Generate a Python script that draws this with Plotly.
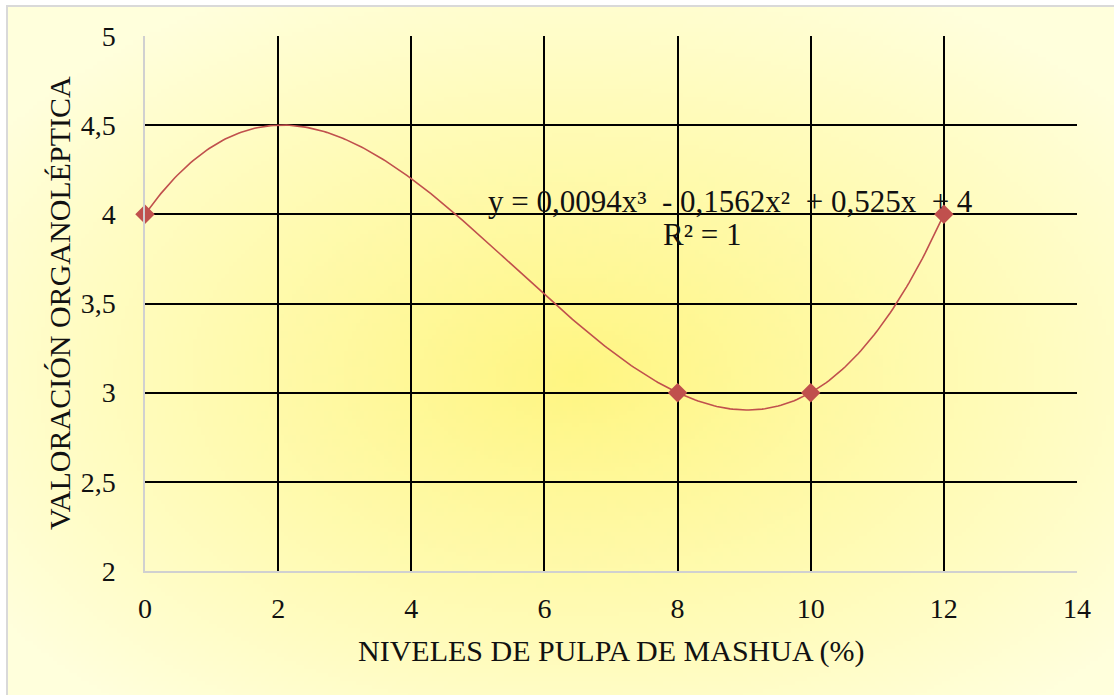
import base64
import struct
import zlib

import numpy as np
import plotly.graph_objects as go

# Data
niveles = [0, 8, 10, 12]
valoracion = [4, 3, 3, 4]
x_ticks = [0, 2, 4, 6, 8, 10, 12, 14]
y_ticks = [2, 2.5, 3, 3.5, 4, 4.5, 5]
y_tick_text = ["2", "2,5", "3", "3,5", "4", "4,5", "5"]
x_title = "NIVELES DE PULPA DE MASHUA (%)"
y_title = "VALORACIÓN ORGANOLÉPTICA"
eq_text = "y = 0,0094x³  - 0,1562x²  + 0,525x  + 4"
r2_text = "R² = 1"

W, H = 1114, 695
ML, MR, MT, MB = 145, 37, 36, 124
PW, PH = W - ML - MR, H - MT - MB

# Cubic trendline fitted to the points
coef = np.polyfit(niveles, valoracion, 3)
xs = np.linspace(0, 12, 300)
ys = np.polyval(coef, xs)


def png_data_uri(rgb):
    h, w, _ = rgb.shape
    raw = b"".join(b"\x00" + rgb[i].tobytes() for i in range(h))

    def chunk(tag, data):
        c = tag + data
        return struct.pack(">I", len(data)) + c + struct.pack(">I", zlib.crc32(c) & 0xFFFFFFFF)

    png = b"\x89PNG\r\n\x1a\n"
    png += chunk(b"IHDR", struct.pack(">IIBBBBB", w, h, 8, 2, 0, 0, 0))
    png += chunk(b"IDAT", zlib.compress(raw, 9))
    png += chunk(b"IEND", b"")
    return "data:image/png;base64," + base64.b64encode(png).decode()


def px_to_paper(px, py):
    return (px - ML) / PW, (H - MB - py) / PH


# Radial yellow gradient for the chart area
gw, gh = 278, 172
yy, xx = np.mgrid[0:gh, 0:gw]
cx, cy = gw * 0.51, gh * 0.53
d = np.sqrt(((xx - cx) / (gw * 0.62)) ** 2 + ((yy - cy) / (gh * 0.62)) ** 2)
t = np.clip(d, 0, 1)
inner = np.array([255, 246, 130], dtype=float)
outer = np.array([255, 255, 220], dtype=float)
img = inner[None, None, :] * (1 - t[..., None]) + outer[None, None, :] * t[..., None]
bg_uri = png_data_uri(img.astype(np.uint8))

# paper coordinates for the outer frame
fx0, fy1 = px_to_paper(7, 6)
fx1, fy0 = px_to_paper(W + 2, H + 4)

fig = go.Figure()

fig.add_trace(go.Scatter(
    x=xs, y=ys, mode="lines",
    line=dict(color="#C0504D", width=1.6),
    hoverinfo="skip", showlegend=False,
))
fig.add_trace(go.Scatter(
    x=niveles, y=valoracion, mode="markers",
    marker=dict(symbol="diamond", size=15, color="#C0504D"),
    showlegend=False, cliponaxis=False,
))

fig.add_layout_image(dict(
    source=bg_uri, xref="paper", yref="paper",
    x=fx0, y=fy1, sizex=fx1 - fx0, sizey=fy1 - fy0,
    sizing="stretch", xanchor="left", yanchor="top", layer="below",
))
fig.add_shape(type="rect", xref="paper", yref="paper",
              x0=fx0, x1=fx1, y0=fy0, y1=fy1,
              line=dict(color="#D9D9D9", width=2), layer="below")

font = dict(family="Liberation Serif, Times New Roman, serif", color="#111111")

fig.add_annotation(x=8.79, y=4.07, xref="x", yref="y", text=eq_text,
                   showarrow=False, font=dict(size=31, **font))
fig.add_annotation(x=8.37, y=3.885, xref="x", yref="y", text=r2_text,
                   showarrow=False, font=dict(size=31, **font))

# Axis titles
tx, ty = px_to_paper(611, 651)
fig.add_annotation(x=tx, y=ty, xref="paper", yref="paper", text=x_title,
                   showarrow=False, xanchor="center", yanchor="middle",
                   font=dict(size=30, **font))
tx, ty = px_to_paper(59, 303)
fig.add_annotation(x=tx, y=ty, xref="paper", yref="paper", text=y_title,
                   showarrow=False, textangle=-90, xanchor="center", yanchor="middle",
                   font=dict(size=30, **font))

fig.update_layout(
    width=W, height=H,
    margin=dict(l=ML, r=MR, t=MT, b=MB),
    paper_bgcolor="white",
    plot_bgcolor="rgba(0,0,0,0)",
    font=dict(size=28, **font),
    xaxis=dict(
        range=[0, 14], tickvals=x_ticks, showgrid=True,
        gridcolor="black", gridwidth=1.6,
        showline=True, linecolor="#D0D0D0", linewidth=1.5,
        zeroline=False, ticks="outside", ticklen=12, tickcolor="rgba(0,0,0,0)",
        tickfont=dict(size=28, **font),
    ),
    yaxis=dict(
        range=[2, 5], tickvals=y_ticks, ticktext=y_tick_text, showgrid=True,
        gridcolor="black", gridwidth=1.6,
        showline=True, linecolor="#D0D0D0", linewidth=1.5,
        zeroline=False, ticks="outside", ticklen=22, tickcolor="rgba(0,0,0,0)",
        tickfont=dict(size=28, **font),
    ),
)

fig.write_html("out.html")
